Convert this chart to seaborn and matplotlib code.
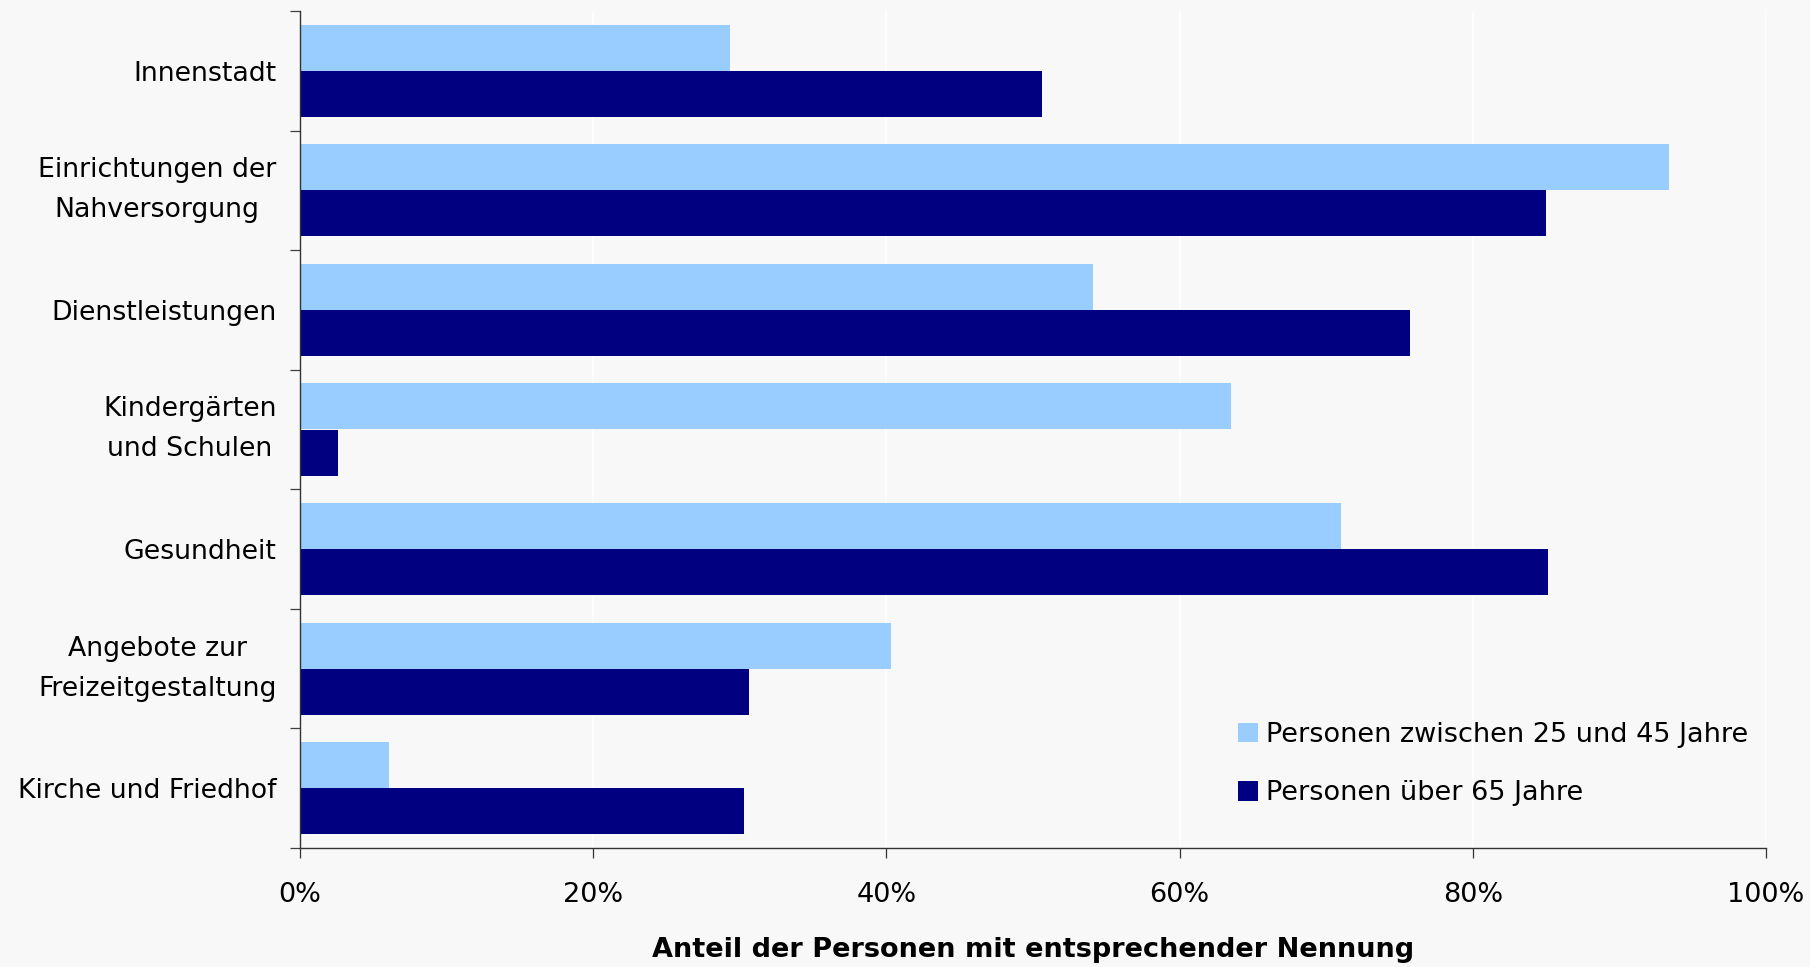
import matplotlib
matplotlib.use("Agg")
import matplotlib.pyplot as plt
import pandas as pd
import seaborn as sns
from matplotlib.ticker import FixedLocator, FuncFormatter

# Survey answers: share of people naming each destination (percent)
categories = [
    "Innenstadt",
    "Einrichtungen der\nNahversorgung",
    "Dienstleistungen",
    "Kindergärten\nund Schulen",
    "Gesundheit",
    "Angebote zur\nFreizeitgestaltung",
    "Kirche und Friedhof",
]
series_names = ["Personen zwischen 25 und 45 Jahre", "Personen über 65 Jahre"]
share_25_45 = [29.3, 93.4, 54.1, 63.5, 71.0, 40.3, 6.1]
share_over_65 = [50.6, 85.0, 75.7, 2.6, 85.1, 30.6, 30.3]
x_ticks = [0, 20, 40, 60, 80, 100]
x_title = "Anteil der Personen mit entsprechender Nennung"

colors = ["#99CCFF", "#000080"]
bg = "#F8F8F8"

sns.set_theme(style="white")
plt.rcParams["font.family"] = ["DejaVu Sans"]

df = pd.DataFrame({
    "Kategorie": categories * 2,
    "Anteil": share_25_45 + share_over_65,
    "Gruppe": [series_names[0]] * len(categories) + [series_names[1]] * len(categories),
})

W, H = 1810, 967
fig = plt.figure(figsize=(W / 100, H / 100), dpi=100, facecolor=bg)
ax = fig.add_axes([300 / W, 1 - 848 / H, 1466 / W, 837 / H])
ax.set_facecolor(bg)

sns.barplot(
    data=df, x="Anteil", y="Kategorie", hue="Gruppe", orient="h",
    order=categories, hue_order=series_names, palette=colors,
    width=0.77, saturation=1, errorbar=None, linewidth=0, ax=ax, zorder=2,
)

ax.set_xlim(0, 100)
ax.set_ylim(len(categories) - 0.5, -0.5)

# faint vertical gridlines
ax.xaxis.set_major_locator(FixedLocator(x_ticks))
ax.xaxis.set_major_formatter(FuncFormatter(lambda v, p: f"{v:.0f}%"))
ax.grid(axis="x", color="#FFFFFF", linewidth=1.2, zorder=0)
ax.set_axisbelow(True)

# category labels on major ticks, boundary ticks as minor
ax.yaxis.set_major_locator(FixedLocator(range(len(categories))))
ax.yaxis.set_minor_locator(FixedLocator([i - 0.5 for i in range(len(categories) + 1)]))
ax.set_yticklabels(categories, multialignment="center", linespacing=1.7)
for lbl in ax.get_yticklabels():
    if "\n" in lbl.get_text():
        lbl.set_verticalalignment("center")
ax.tick_params(axis="y", which="major", length=0, pad=17, labelsize=19.3, labelcolor="#000000")
ax.tick_params(axis="y", which="minor", left=True, length=7.2, width=0.9, color="#404040")
ax.tick_params(axis="x", which="major", bottom=True, length=7.2, width=0.9, color="#333333",
               pad=17, labelsize=19.5, labelcolor="#000000")

for side in ("top", "right"):
    ax.spines[side].set_visible(False)
for side in ("left", "bottom"):
    ax.spines[side].set_visible(True)
    ax.spines[side].set_color("#333333")
    ax.spines[side].set_linewidth(1.0)

ax.set_ylabel("")
ax.set_xlabel(x_title, fontsize=19.5, fontweight="bold", labelpad=21, color="#000000")

handles, labels = ax.get_legend_handles_labels()
leg = ax.legend(
    handles, labels, loc="upper left", bbox_to_anchor=(1238 / W, 1 - 722 / H),
    bbox_transform=fig.transFigure, frameon=False, fontsize=19.5,
    handlelength=0.75, handleheight=0.75, handletextpad=0.3, labelspacing=1.2,
    borderaxespad=0, borderpad=0,
)
for txt in leg.get_texts():
    txt.set_color("#000000")

fig.savefig("out.png", dpi=100, facecolor=bg)
